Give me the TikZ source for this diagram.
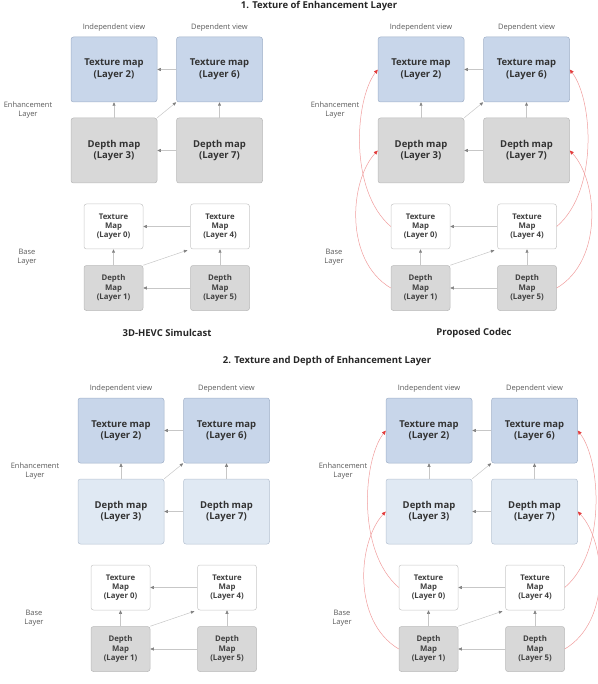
\documentclass[tikz,border=0pt]{standalone}
\usepackage{fontspec}
\setmainfont{Open Sans}
\usepackage{xcolor}
\usetikzlibrary{arrows.meta,positioning}
\definecolor{texfill}{RGB}{200,214,234}
\definecolor{texline}{RGB}{160,176,200}
\definecolor{depfill}{RGB}{216,216,216}
\definecolor{depline}{RGB}{185,185,185}
\definecolor{lightfill}{RGB}{224,233,243}
\definecolor{lightline}{RGB}{182,194,210}
\definecolor{baseline}{RGB}{200,200,200}
\definecolor{arcred}{RGB}{226,60,60}

% one panel: prefix, x shift, y shift, style of the enhancement depth maps
\newcommand{\viewpanel}[4]{%
  \begin{scope}[shift={(#2,#3)}]
    \node[bigbox,texmap] (#1-L2) at (114,69.5) {Texture map\\(Layer 2)};
    \node[bigbox,texmap] (#1-L6) at (219.5,69.5) {Texture map\\(Layer 6)};
    \node[bigbox,#4] (#1-L3) at (114,150.5) {Depth map\\(Layer 3)};
    \node[bigbox,#4] (#1-L7) at (219.5,150.5) {Depth map\\(Layer 7)};
    \node[smallbox,texbase] (#1-L0) at (113.5,226.5) {Texture\\Map\\(Layer 0)};
    \node[smallbox,texbase] (#1-L4) at (220,226.5) {Texture\\Map\\(Layer 4)};
    \node[smallbox,depgray] (#1-L1) at (113.5,288) {Depth\\Map\\(Layer 1)};
    \node[smallbox,depgray] (#1-L5) at (220,288) {Depth\\Map\\(Layer 5)};
    \node[viewlbl,above=4pt of #1-L2] (#1-ind) {Independent view};
    \node[viewlbl,above=4pt of #1-L6] (#1-dep) {Dependent view};
    \node[layerlbl] (#1-enh) at (28,110) {Enhancement\\Layer};
    \node[layerlbl] (#1-base) at (27,257) {Base\\Layer};
    \draw[flow] (#1-L6) -- (#1-L2);
    \draw[flow] (#1-L3) -- (#1-L2);
    \draw[flow] (#1-L7) -- (#1-L6);
    \draw[flow] (#1-L7) -- (#1-L3);
    \draw[flow] (#1-L3.north east) -- (#1-L6.south west);
    \draw[flow] (#1-L4) -- (#1-L0);
    \draw[flow] (#1-L1) -- (#1-L0);
    \draw[flow] (#1-L5) -- (#1-L4);
    \draw[flow] (#1-L5) -- (#1-L1);
    \draw[flow,shorten >=3pt] (#1-L1.north east) -- (#1-L4.south west);
  \end{scope}}

\begin{document}
\begin{tikzpicture}[
    x=1pt,y=-1pt,
    bigbox/.style={draw,rounded corners=2.5pt,minimum width=86pt,minimum height=65pt,align=center,
      line width=0.5pt,text=black!80,font=\fontsize{9.5}{11.5}\selectfont\bfseries},
    smallbox/.style={draw,rounded corners=2.5pt,minimum width=59pt,minimum height=45pt,align=center,
      line width=0.5pt,text=black!75,font=\fontsize{7.8}{9.3}\selectfont\bfseries},
    texmap/.style={fill=texfill,draw=texline},
    depgray/.style={fill=depfill,draw=depline},
    deplight/.style={fill=lightfill,draw=lightline},
    texbase/.style={fill=white,draw=baseline},
    viewlbl/.style={inner sep=1pt,text=black!65,font=\fontsize{7.5}{9}\selectfont},
    layerlbl/.style={align=center,text=black!65,font=\fontsize{7.5}{9.5}\selectfont},
    heading/.style={text=black!85,font=\fontsize{9.5}{11}\selectfont\bfseries},
    flow/.style={draw=black!22,line width=0.5pt,-{Triangle[length=3.5pt,width=3pt,color=black!50]}},
    interlayer/.style={draw=arcred!50,line width=0.5pt,-{Triangle[length=4pt,width=3.5pt,color=arcred]}}
]
\useasboundingbox (0,0) rectangle (597,684);
\node[heading] (title1) at (319,6) {1. Texture of Enhancement Layer};
\node[heading] (title2) at (327,361) {2. Texture and Depth of Enhancement Layer};
\viewpanel{a}{0}{0}{depgray}
\viewpanel{b}{307}{0}{depgray}
\viewpanel{c}{7}{361}{deplight}
\viewpanel{d}{315}{361}{deplight}
\node[heading] (capa) at (167,333) {3D-HEVC Simulcast};
\node[heading] (capb) at (474,333) {Proposed Codec};
% base layer to enhancement layer
\foreach \p in {b,d} {
  \draw[interlayer] (\p-L0.west) .. controls +(-42,-36) and +(-23,30) .. (\p-L2.west);
  \draw[interlayer] (\p-L1.west) .. controls +(-47,-28) and +(-28,30) .. (\p-L3.west);
  \draw[interlayer] (\p-L4.east) .. controls +(42,-36) and +(23,30) .. (\p-L6.east);
  \draw[interlayer] (\p-L5.east) .. controls +(47,-28) and +(28,30) .. (\p-L7.east);
}
\end{tikzpicture}
\end{document}
